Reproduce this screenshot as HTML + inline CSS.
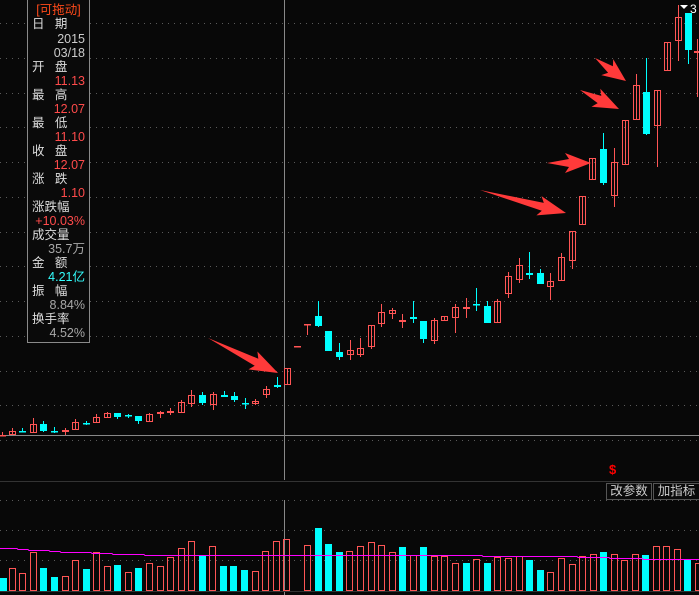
<!DOCTYPE html>
<html><head><meta charset="utf-8"><style>
body{margin:0;background:#080808;width:699px;height:595px;overflow:hidden;font-family:"Liberation Sans","Noto Sans CJK SC",sans-serif}
#c{position:absolute;left:0;top:0}
#info{position:absolute;left:27px;top:0;width:61px;height:342px;border:1px solid #8a8a8a;border-top:none;background:#0a0a0a;font-size:12.5px;line-height:14px;color:#ddd}
#info div{height:14px;white-space:nowrap;padding:0 4px}
.v{text-align:right}
.r{color:#ff4b4b}.g{color:#a8a8a8}.cy{color:#3ff}
.btn{position:absolute;top:483px;height:15px;border:1px solid #555;color:#ccc;font-size:12.5px;line-height:15px;text-align:center;background:#0a0a0a}
</style></head><body>
<svg id="c" width="699" height="595" xmlns="http://www.w3.org/2000/svg"></svg>
<div id="info">
<div style="color:#ff4a1a;text-align:center;height:17px;line-height:20px">[可拖动]</div>
<div style="height:15px">日&nbsp;&nbsp;&nbsp;期</div>
<div class="v g" style="color:#ccc">2015</div>
<div class="v" style="color:#ccc">03/18</div>
<div>开&nbsp;&nbsp;&nbsp;盘</div>
<div class="v r">11.13</div>
<div>最&nbsp;&nbsp;&nbsp;高</div>
<div class="v r">12.07</div>
<div>最&nbsp;&nbsp;&nbsp;低</div>
<div class="v r">11.10</div>
<div>收&nbsp;&nbsp;&nbsp;盘</div>
<div class="v r">12.07</div>
<div>涨&nbsp;&nbsp;&nbsp;跌</div>
<div class="v r">1.10</div>
<div>涨跌幅</div>
<div class="v r">+10.03%</div>
<div>成交量</div>
<div class="v g">35.7万</div>
<div>金&nbsp;&nbsp;&nbsp;额</div>
<div class="v cy">4.21亿</div>
<div>振&nbsp;&nbsp;&nbsp;幅</div>
<div class="v g">8.84%</div>
<div>换手率</div>
<div class="v g">4.52%</div>
</div>
<div class="btn" style="left:606px;width:44px">改参数</div>
<div class="btn" style="left:653px;width:45px">加指标</div>
<div style="position:absolute;left:609px;top:462px;color:#f00;font-size:13px;font-weight:bold">$</div>
<div style="position:absolute;left:690px;top:2px;color:#fff;font-size:12px">3</div>
<script>
var s=document.getElementById('c'),h='';
var R='#ff5555',C='#00ffff';
for(var k=0;k<13;k++){var y=Math.round(23+k*34.75)+.5;h+='<line x1="0" x2="699" y1="'+y+'" y2="'+y+'" stroke="#5a5a5a" stroke-dasharray="1,5"/>';}
[500,530,560].forEach(function(y){h+='<line x1="0" x2="699" y1="'+(y+.5)+'" y2="'+(y+.5)+'" stroke="#5a5a5a" stroke-dasharray="1,5"/>';});
h+='<line x1="0" x2="699" y1="481.5" y2="481.5" stroke="#333"/>';
h+='<line x1="0" x2="699" y1="435.5" y2="435.5" stroke="#888"/>';
h+='<line x1="284.5" x2="284.5" y1="0" y2="480" stroke="#888"/>';
h+='<line x1="284.5" x2="284.5" y1="500" y2="595" stroke="#888"/>';
h+='<line x1="0" x2="699" y1="591.5" y2="591.5" stroke="#333"/>';
var K=[[2,435,436,432,436,1],[12,431,435,428,435,1],[22,431,432,428,432,0],[33,424,433,418,433,1],[43,424,431,421,432,0],[54,431,431,427,433,0],[65,430,432,428,435,1],[75,422,430,419,430,1],[86,423,424,421,425,0],[96,417,423,414,423,1],[107,413,418,412,418,1],[117,413,417,413,419,0],[128,415,416,414,418,0],[138,416,421,416,424,0],[149,414,422,413,422,1],[160,412,414,411,418,1],[170,411,413,408,415,1],[181,402,413,400,413,1],[191,395,404,390,407,1],[202,395,403,392,405,0],[213,394,405,392,410,1],[224,395,397,391,397,0],[234,396,400,392,402,0],[245,403,404,398,409,0],[255,401,404,399,405,1],[266,389,395,386,398,1],[277,385,387,377,388,0],[287,368,385,368,385,1],[297,346,347,346,347,1],[307,324,325,324,335,1],[318,316,326,301,327,0],[328,331,351,331,351,0],[339,352,357,343,360,0],[350,350,355,340,360,1],[360,348,355,338,357,1],[371,325,347,325,349,1],[381,312,324,304,327,1],[392,310,314,308,319,1],[402,320,322,314,328,1],[413,317,319,301,323,0],[423,321,339,321,343,0],[434,320,341,318,344,1],[444,316,321,316,321,1],[455,307,318,304,333,1],[466,307,309,298,318,1],[476,304,305,288,311,0],[487,306,323,301,323,0],[497,301,323,299,323,1],[508,276,294,272,298,1],[519,265,280,258,283,1],[529,273,275,252,279,0],[540,273,284,269,284,0],[550,281,287,273,300,1],[561,257,281,253,281,1],[572,231,261,231,269,1],[582,196,225,196,225,1],[592,158,180,158,180,1],[603,149,183,133,185,0],[614,162,196,148,207,1],[625,120,165,120,165,1],[636,85,120,74,120,1],[646,92,134,58,135,0],[657,90,126,90,167,1],[667,42,71,42,71,1],[678,17,41,5,61,1],[688,13,50,13,64,0],[697,51,53,39,97,1]];
K.forEach(function(c){var x=c[0],col=c[5]?R:C;
h+='<line x1="'+(x+.5)+'" x2="'+(x+.5)+'" y1="'+c[3]+'" y2="'+c[4]+'" stroke="'+col+'"/>';
var hh=c[2]-c[1];
if(hh<=2){h+='<rect x="'+(x-3)+'" y="'+c[1]+'" width="7" height="'+Math.max(hh,1.5)+'" fill="'+col+'"/>';}
else if(c[5])h+='<rect x="'+(x-2.5)+'" y="'+(c[1]+.5)+'" width="6" height="'+(hh-1)+'" fill="none" stroke="'+col+'"/>';
else h+='<rect x="'+(x-3)+'" y="'+c[1]+'" width="7" height="'+hh+'" fill="'+col+'"/>';});
var V=[[0,578,0],[9,568,1],[19,573,1],[30,552,1],[40,568,0],[51,577,0],[62,576,1],[72,560,1],[83,569,0],[93,552,1],[104,566,1],[114,565,0],[125,572,1],[135,568,0],[146,563,1],[157,566,1],[167,557,1],[178,548,1],[188,541,1],[199,555,0],[209,546,1],[220,566,0],[230,566,0],[241,570,0],[252,571,1],[262,551,1],[273,541,1],[283,539,1],[294,590,1],[304,545,1],[315,528,0],[325,544,0],[336,552,0],[346,551,1],[357,546,1],[368,542,1],[378,545,1],[389,552,1],[399,547,0],[410,555,1],[420,547,0],[431,556,1],[441,556,1],[452,563,1],[463,563,0],[473,559,1],[484,563,0],[494,557,1],[505,558,1],[516,556,1],[526,560,0],[537,570,0],[547,572,1],[558,558,1],[569,564,1],[579,556,1],[590,554,1],[600,552,0],[611,554,1],[621,560,1],[632,554,1],[642,555,0],[653,546,1],[663,546,1],[674,549,1],[684,560,0],[695,563,1]];
V.forEach(function(v){if(v[2])h+='<rect x="'+(v[0]+.5)+'" y="'+(v[1]+.5)+'" width="6" height="'+(591-v[1]-1)+'" fill="none" stroke="'+R+'"/>';else h+='<rect x="'+v[0]+'" y="'+v[1]+'" width="7" height="'+(591-v[1])+'" fill="'+C+'"/>';});
h+='<polyline fill="none" stroke="#ff00ff" stroke-width="1" points="0,548.5 17,548.5 18,549.5 28,549.5 29,550.5 49,550.5 50,551.5 60,551.5 61,552.5 91,552.5 92,553.5 112,553.5 113,554.5 144,554.5 145,555.5 482,555.5 483,556.5 577,556.5 578,557.5 609,557.5 610,558.5 642,558.5 643,559.5 699,559.5"/>';
function arr(x1,y1,x2,y2){var dx=x2-x1,dy=y2-y1,L=Math.sqrt(dx*dx+dy*dy),ux=dx/L,uy=dy/L,px=-uy,py=ux;
var hl=Math.min(24,L*0.5),bx=x2-ux*hl,by=y2-uy*hl;
function p(x,y){return x.toFixed(1)+','+y.toFixed(1);}
h+='<polygon fill="#ff3a3a" points="'+[p(x1,y1),p(bx+px*4,by+py*4),p(bx-ux*4+px*10,by-uy*4+py*10),p(x2,y2),p(bx-ux*4-px*10,by-uy*4-py*10),p(bx-px*4,by-py*4)].join(' ')+'"/>';}
arr(208,338,278,373);arr(480,190,566,213);arr(547,163,591,163);arr(580,90,619,109);arr(595,58,626,81);
h+='<polygon fill="#fff" points="680,5 688,5 684,9"/>';
s.innerHTML=h;
</script>
</body></html>
